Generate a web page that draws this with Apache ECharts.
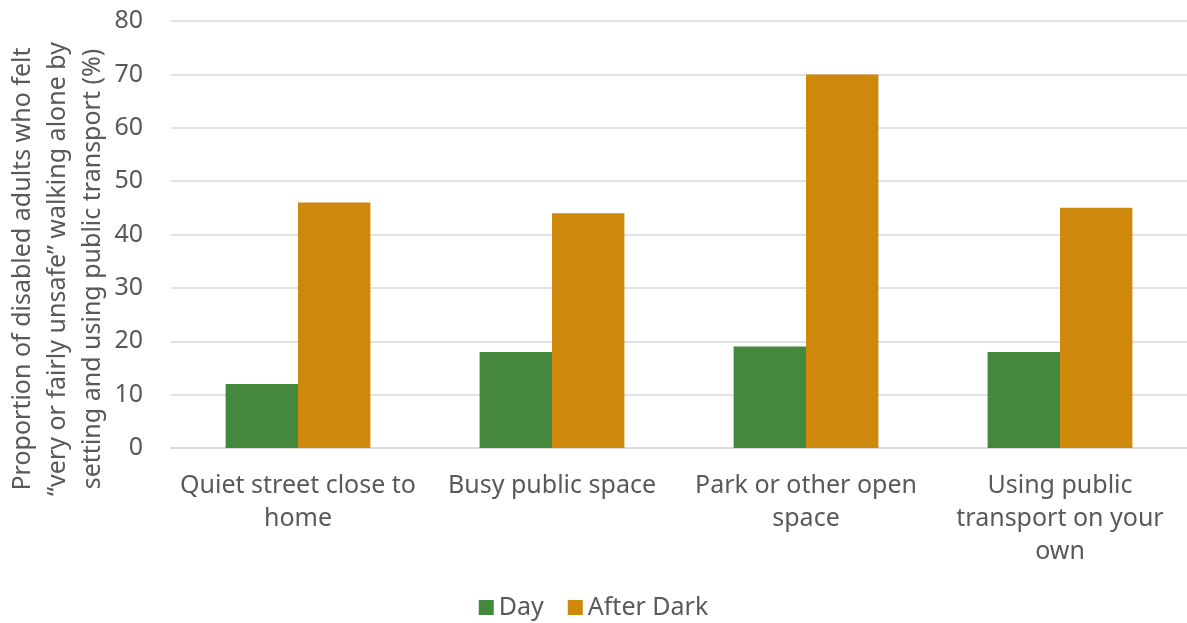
<!DOCTYPE html>
<html>
<head>
<meta charset="utf-8">
<script src="https://cdn.jsdelivr.net/npm/echarts@6/dist/echarts.min.js"></script>
<style>
  html, body { margin: 0; padding: 0; background: #fff; }
  #chart { width: 1187px; height: 623px; }
</style>
</head>
<body>
<div id="chart"></div>
<script>
// Settings where adults felt unsafe walking alone or using public transport
const categories = [
  'Quiet street close to\nhome',
  'Busy public space',
  'Park or other open\nspace',
  'Using public\ntransport on your\nown'
];
const dayValues = [12, 18, 19, 18];
const afterDarkValues = [46, 44, 70, 45];
const yTicks = { min: 0, max: 80, interval: 10 };
const yTitle = 'Proportion of disabled adults who felt\n\u201cvery or fairly unsafe\u201d walking alone by\nsetting and using public transport (%)';

const FONT = '"Noto Sans", sans-serif';
const TEXT = '#595959';

const chart = echarts.init(document.getElementById('chart'), null, { renderer: 'canvas' });
chart.setOption({
  animation: false,
  textStyle: { fontFamily: FONT, color: TEXT },
  grid: { left: 171, right: 0, top: 21, bottom: 175, containLabel: false },
  legend: {
    top: 590,
    left: 'center',
    itemWidth: 15,
    itemHeight: 15,
    itemGap: 24,
    icon: 'rect',
    textStyle: { fontFamily: FONT, fontSize: 25, color: TEXT },
    data: ['Day', 'After Dark']
  },
  xAxis: {
    type: 'category',
    data: categories,
    axisLine: { show: true, lineStyle: { color: '#D9D9D9', width: 1.5 } },
    axisTick: { show: false },
    axisLabel: {
      interval: 0,
      margin: 21,
      fontFamily: FONT,
      fontSize: 25,
      color: TEXT,
      lineHeight: 33
    }
  },
  yAxis: {
    type: 'value',
    min: yTicks.min,
    max: yTicks.max,
    interval: yTicks.interval,
    axisLine: { show: false },
    axisTick: { show: false },
    splitLine: { lineStyle: { color: '#D9D9D9', width: 1.5 } },
    axisLabel: { margin: 28, fontFamily: FONT, fontSize: 25, color: TEXT }
  },
  graphic: [{
    type: 'text',
    x: 58,
    y: 269,
    rotation: Math.PI / 2,
    style: {
      text: yTitle,
      align: 'center',
      verticalAlign: 'middle',
      fontFamily: FONT,
      fontSize: 25,
      lineHeight: 35,
      fill: TEXT
    }
  }],
  series: [
    {
      name: 'Day',
      type: 'bar',
      data: dayValues,
      barGap: '0%',
      barCategoryGap: '43%',
      itemStyle: { color: '#43883D' }
    },
    {
      name: 'After Dark',
      type: 'bar',
      data: afterDarkValues,
      barGap: '0%',
      barCategoryGap: '43%',
      itemStyle: { color: '#CE880C' }
    }
  ]
});
</script>
</body>
</html>
